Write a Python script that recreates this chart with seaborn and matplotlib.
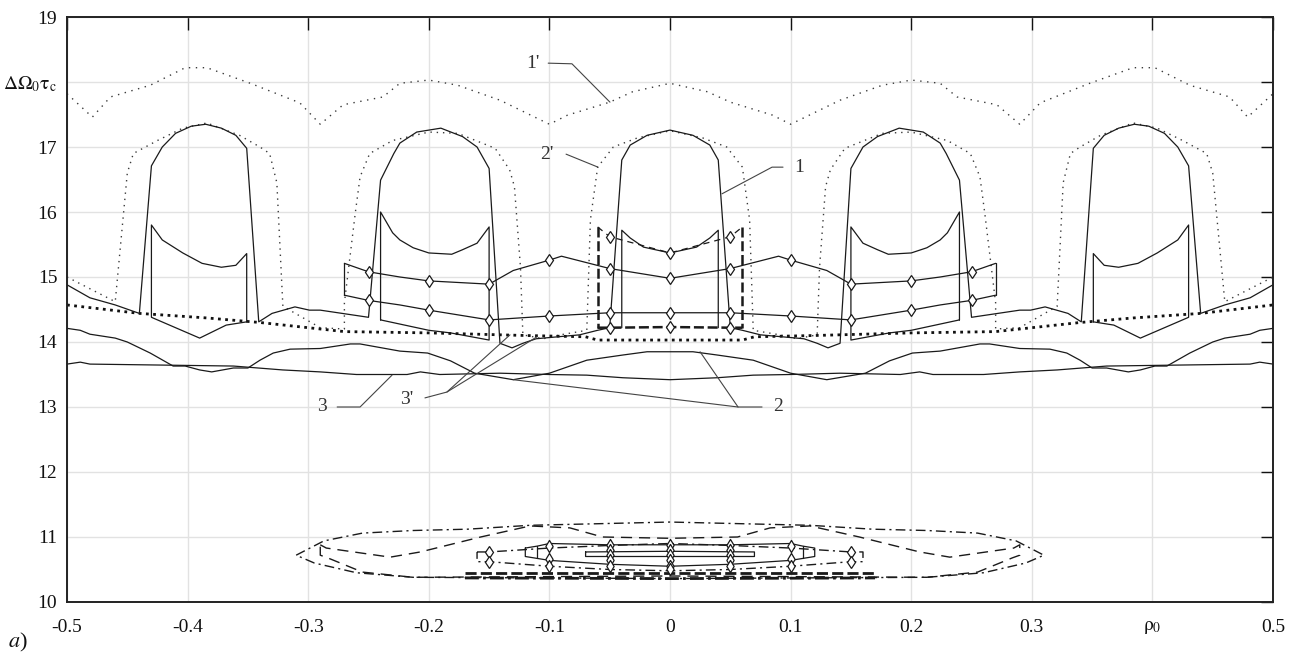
import numpy as np
import pandas as pd
import matplotlib
matplotlib.use("Agg")
import matplotlib.pyplot as plt
import seaborn as sns

# ---------------- data ----------------
# curve 1' (light dotted, top)
C1P_X = [-0.5,-0.479,-0.464,-0.431,-0.402,-0.384,-0.348,-0.307,-0.29,-0.271,-0.238,-0.224,-0.2,-0.176,-0.141,-0.1,-0.085,-0.05,-0.031,0.0,
         0.031,0.05,0.085,0.1,0.141,0.176,0.2,0.224,0.238,0.271,0.29,0.307,0.348,0.384,0.402,0.431,0.464,0.479,0.5]
C1P_Y = [17.82,17.46,17.77,17.95,18.22,18.22,17.98,17.68,17.35,17.65,17.77,17.98,18.03,17.95,17.72,17.35,17.49,17.69,17.85,17.98,
         17.85,17.69,17.49,17.35,17.72,17.95,18.03,17.98,17.77,17.65,17.35,17.68,17.98,18.22,18.22,17.95,17.77,17.46,17.82]

# curve 1 (solid outline with domes)
C1_X = [-0.5,-0.481,-0.46,-0.44,-0.43,-0.421,-0.41,-0.397,-0.385,-0.372,-0.36,-0.351,-0.341,-0.33,-0.311,-0.299,-0.29,-0.25,
        -0.24,-0.229,-0.224,-0.21,-0.19,-0.172,-0.16,-0.15,-0.141,-0.131,-0.122,-0.111,-0.075,-0.06,-0.05,-0.04,-0.033,-0.019,0.0,
        0.019,0.033,0.04,0.05,0.06,0.075,0.111,0.122,0.131,0.141,0.15,0.16,0.172,0.19,0.21,0.224,0.229,0.24,
        0.25,0.29,0.299,0.311,0.33,0.341,0.351,0.36,0.372,0.385,0.397,0.41,0.421,0.43,0.44,0.46,0.481,0.5]
C1_Y = [14.88,14.68,14.57,14.44,16.71,17.0,17.21,17.32,17.35,17.29,17.18,16.98,14.31,14.44,14.54,14.49,14.49,14.38,
        16.49,16.9,17.06,17.23,17.29,17.16,17.0,16.67,13.98,13.91,13.98,14.05,14.11,14.18,14.22,16.8,17.03,17.18,17.26,
        17.18,17.03,16.8,14.22,14.18,14.11,14.05,13.98,13.91,13.98,16.67,17.0,17.16,17.29,17.23,17.06,16.9,16.49,
        14.38,14.49,14.49,14.54,14.44,14.31,16.98,17.18,17.29,17.35,17.32,17.21,17.0,16.71,14.44,14.57,14.68,14.88]

# inner cups of curve 1
CUP1_X = [-0.351,-0.368,-0.39,-0.43,-0.43,-0.421,-0.404,-0.388,-0.372,-0.36,-0.351,-0.351]
CUP1_Y = [14.31,14.26,14.06,14.38,15.8,15.57,15.37,15.21,15.15,15.18,15.36,14.31]
CUP2_X = [-0.24,-0.24,-0.23,-0.224,-0.213,-0.2,-0.181,-0.172,-0.16,-0.15,-0.15,-0.182,-0.2,-0.24]
CUP2_Y = [14.34,16.0,15.68,15.57,15.45,15.37,15.35,15.42,15.52,15.77,14.03,14.14,14.18,14.34]
CUP3_X = [-0.04,-0.04,-0.033,-0.022,0.0,0.022,0.033,0.04,0.04]
CUP3_Y = [14.22,15.72,15.6,15.46,15.37,15.46,15.6,15.72,14.22]
CUP4_X = [0.24,0.24,0.23,0.224,0.213,0.2,0.181,0.172,0.16,0.15,0.15,0.182,0.2,0.24]
CUP4_Y = [14.34,16.0,15.68,15.57,15.45,15.37,15.35,15.42,15.52,15.77,14.03,14.14,14.18,14.34]
CUP5_X = [0.351,0.368,0.39,0.43,0.43,0.421,0.404,0.388,0.372,0.36,0.351,0.351]
CUP5_Y = [14.31,14.26,14.06,14.38,15.8,15.57,15.37,15.21,15.15,15.18,15.36,14.31]

# curve 2' (light dotted domes)
C2P_X = [-0.5,-0.46,-0.45,-0.445,-0.425,-0.404,-0.384,-0.357,-0.34,-0.332,-0.326,-0.321,-0.29,-0.27,-0.27,-0.261,-0.257,-0.249,
         -0.23,-0.2,-0.176,-0.145,-0.133,-0.129,-0.124,-0.122,-0.105,-0.091,-0.069,-0.066,-0.06,-0.047,-0.027,0.0,
         0.027,0.047,0.06,0.066,0.069,0.091,0.105,0.122,0.124,0.129,0.133,0.145,0.176,0.2,0.23,
         0.249,0.257,0.261,0.27,0.27,0.29,0.321,0.326,0.332,0.34,0.357,0.384,0.404,0.425,0.445,0.45,0.46,0.5]
C2P_Y = [15.0,14.62,16.6,16.9,17.1,17.29,17.37,17.18,17.0,16.9,16.45,14.55,14.22,14.2,14.6,15.98,16.54,16.9,
         17.1,17.23,17.21,16.98,16.65,16.39,15.15,14.11,14.05,14.11,14.18,15.88,16.69,17.0,17.14,17.25,
         17.14,17.0,16.69,15.88,14.18,14.11,14.05,14.11,15.15,16.39,16.65,16.98,17.21,17.23,17.1,
         16.9,16.54,15.98,14.6,14.2,14.22,14.55,16.45,16.9,17.0,17.18,17.37,17.29,17.1,16.9,16.6,14.62,15.0]

# curve 3' (bold dotted)
C3P_X = [-0.5,-0.44,-0.384,-0.34,-0.27,-0.2,-0.12,-0.07,-0.06,0.0,0.06,0.07,0.12,0.2,0.27,0.34,0.384,0.44,0.5]
C3P_Y = [14.57,14.44,14.37,14.3,14.16,14.14,14.1,14.08,14.03,14.03,14.03,14.08,14.1,14.14,14.16,14.3,14.37,14.44,14.57]

# curve 2 (solid, wavy)
C2_X = [-0.5,-0.489,-0.481,-0.46,-0.45,-0.431,-0.412,-0.402,-0.39,-0.38,-0.362,-0.35,-0.34,-0.329,-0.315,-0.29,-0.265,-0.257,
        -0.224,-0.201,-0.182,-0.162,-0.13,-0.1,-0.069,-0.039,-0.019,0.0,0.019,0.039,0.069,0.1,0.13,0.162,0.182,0.201,0.224,
        0.257,0.265,0.29,0.315,0.329,0.34,0.35,0.362,0.38,0.39,0.402,0.412,0.431,0.45,0.46,0.481,0.489,0.5]
C2_Y = [14.21,14.18,14.12,14.06,14.0,13.83,13.63,13.63,13.57,13.54,13.6,13.6,13.72,13.83,13.89,13.9,13.97,13.97,
        13.86,13.83,13.71,13.52,13.42,13.52,13.72,13.8,13.85,13.85,13.85,13.8,13.72,13.52,13.42,13.52,13.71,13.83,13.86,
        13.97,13.97,13.9,13.89,13.83,13.72,13.6,13.6,13.54,13.57,13.63,13.63,13.83,14.0,14.06,14.12,14.18,14.21]

# curve 3 (solid, flat)
C3_X = [-0.5,-0.489,-0.481,-0.362,-0.321,-0.29,-0.26,-0.218,-0.207,-0.191,-0.141,-0.1,-0.069,-0.039,0.0,
        0.039,0.069,0.1,0.141,0.191,0.207,0.218,0.26,0.29,0.321,0.362,0.481,0.489,0.5]
C3_Y = [13.66,13.69,13.66,13.63,13.57,13.54,13.5,13.5,13.54,13.5,13.52,13.5,13.49,13.45,13.42,
        13.45,13.49,13.5,13.52,13.5,13.54,13.5,13.5,13.54,13.57,13.63,13.66,13.69,13.66]

# diamond-marked lines
D1_X = [-0.27,-0.25,-0.224,-0.2,-0.15,-0.13,-0.1,-0.09,-0.05,0.0,0.05,0.09,0.1,0.13,0.15,0.2,0.224,0.25,0.27]
D1_Y = [15.21,15.08,15.0,14.94,14.89,15.1,15.26,15.32,15.13,14.98,15.13,15.32,15.26,15.1,14.89,14.94,15.0,15.08,15.21]
D1_MARK = [1,3,4,6,8,9,10,12,14,15,17]
D2_X = [-0.27,-0.25,-0.224,-0.2,-0.15,-0.1,-0.05,0.0,0.05,0.1,0.15,0.2,0.224,0.25,0.27]
D2_Y = [14.72,14.64,14.57,14.49,14.34,14.4,14.45,14.45,14.45,14.4,14.34,14.49,14.57,14.64,14.72]
D2_MARK = [1,3,4,5,6,7,8,9,10,11,13]

# dashed box around the central dome
BOX_TOP_X = [-0.06,-0.05,0.0,0.05,0.06]
BOX_TOP_Y = [15.77,15.62,15.37,15.62,15.77]
BOX_BOT_X = [-0.06,-0.05,0.0,0.05,0.06]
BOX_BOT_Y = [14.22,14.22,14.23,14.22,14.22]

# bottom cluster (closed loops)
E1_X = [-0.31,-0.287,-0.255,-0.213,-0.168,-0.116,0.0,0.116,0.168,0.213,0.255,0.287,0.31,
        0.295,0.26,0.213,0.1,0.0,-0.1,-0.213,-0.26,-0.295,-0.31]
E1_Y = [10.72,10.94,11.06,11.1,11.12,11.18,11.23,11.18,11.12,11.1,11.06,10.94,10.72,
        10.6,10.45,10.38,10.37,10.36,10.37,10.38,10.45,10.6,10.72]
E2_X = [-0.29,-0.285,-0.232,-0.207,-0.157,-0.116,-0.083,-0.056,0.0,0.056,0.083,0.116,0.157,0.207,0.232,0.285,0.29,
        0.29,0.284,0.255,0.213,0.0,-0.213,-0.255,-0.284,-0.29,-0.29]
E2_Y = [10.88,10.83,10.69,10.77,11.0,11.17,11.14,11.0,10.98,11.0,11.14,11.17,11.0,10.77,10.69,10.83,10.88,
        10.72,10.68,10.46,10.38,10.4,10.38,10.46,10.68,10.72,10.88]
E3_X = [-0.16,-0.15,-0.1,-0.05,0.0,0.05,0.1,0.15,0.16,0.16,0.15,0.1,0.05,0.0,-0.05,-0.1,-0.15,-0.16,-0.16]
E3_Y = [10.77,10.77,10.83,10.87,10.9,10.87,10.83,10.77,10.77,10.62,10.62,10.55,10.5,10.48,10.5,10.55,10.62,10.62,10.77]
E3_MARK = [1,7,10,16]
E4_X = [-0.12,-0.11,-0.1,-0.05,0.0,0.05,0.1,0.11,0.12,0.12,0.11,0.1,0.05,0.0,-0.05,-0.1,-0.11,-0.12,-0.12]
E4_Y = [10.83,10.86,10.9,10.88,10.88,10.88,10.9,10.86,10.83,10.7,10.67,10.64,10.58,10.55,10.58,10.64,10.67,10.7,10.83]
RECT_X = [-0.07,0.0,0.07,0.07,0.0,-0.07,-0.07]
RECT_Y = [10.77,10.78,10.77,10.7,10.7,10.7,10.77]
BOLD_X = [-0.17,0.0,0.17]
BOLD1_Y = [10.45,10.45,10.45]
BOLD2_Y = [10.37,10.36,10.37]
STACK_X = [-0.1,-0.1,-0.1,-0.05,-0.05,-0.05,-0.05,-0.05,0.0,0.0,0.0,0.0,0.0,0.0,
           0.05,0.05,0.05,0.05,0.05,0.1,0.1,0.1]
STACK_Y = [10.86,10.66,10.56,10.88,10.8,10.72,10.64,10.56,10.88,10.8,10.72,10.64,10.56,10.5,
           10.88,10.8,10.72,10.64,10.56,10.86,10.66,10.56]

# axis ticks and labels
X_TICKS = [-0.5,-0.4,-0.3,-0.2,-0.1,0.0,0.1,0.2,0.3,0.4,0.5]
X_LABELS = ['-0.5','-0.4','-0.3','-0.2','-0.1','0','0.1','0.2','0.3',r'$\mathrm{\rho_0}$','0.5']
Y_TICKS = [10,11,12,13,14,15,16,17,18,19]
Y_LABELS = ['10','11','12','13','14','15','16','17',r'$\mathrm{\Delta\Omega_0\tau_c}$','19']

# curve labels with leader lines (data coords)
LABELS = ["1'", "2'", "1", "3", "3'", "2"]
LABEL_POS = [(-0.1136,18.29),(-0.102,16.88),(0.107,16.68),(-0.2886,13.0),(-0.218,13.11),(0.0896,13.0)]
LEADERS = [
    [(-0.101,18.29),(-0.0813,18.28),(-0.0498,17.69)],
    [(-0.0862,16.89),(-0.0597,16.69)],
    [(0.0937,16.69),(0.0846,16.69),(0.0431,16.28)],
    [(-0.276,13.0),(-0.257,13.0),(-0.2305,13.49)],
    [(-0.2032,13.14),(-0.185,13.23),(-0.1327,14.11)],
    [(-0.185,13.23),(-0.1103,14.08)],
    [(0.0763,13.0),(0.0564,13.0),(0.0249,13.85)],
    [(0.0564,13.0),(-0.130,13.42)],
]

# ---------------- plotting ----------------
sns.set_theme(style="white")
plt.rcParams['font.family'] = ['Liberation Serif', 'DejaVu Serif']
plt.rcParams['mathtext.fontset'] = 'stix'

fig = plt.figure(figsize=(13.01, 6.59), dpi=100)
ax = fig.add_axes([0.0515, 0.0865, 0.927, 0.8877])

INK = '#1a1a1a'

def line(xs, ys, **kw):
    kw.setdefault('color', INK)
    kw.setdefault('lw', 0.9)
    sns.lineplot(x=xs, y=ys, sort=False, estimator=None, errorbar=None,
                 ax=ax, legend=False, **kw)

DIA = dict(marker='d', markersize=6.5, mfc='white', mec=INK, mew=0.9)

# top dotted curves
line(C1P_X, C1P_Y, lw=1.0, color='#3a3a3a', linestyle=(0, (1, 4)))
line(C2P_X, C2P_Y, lw=1.0, color='#3a3a3a', linestyle=(0, (1, 3.5)))
line(C3P_X, C3P_Y, lw=2.0, color='#111111', linestyle=(0, (1, 1.6)))

# curve 1 and its cups
line(C1_X, C1_Y)
for cx, cy in [(CUP1_X, CUP1_Y), (CUP2_X, CUP2_Y), (CUP3_X, CUP3_Y), (CUP4_X, CUP4_Y), (CUP5_X, CUP5_Y)]:
    line(cx, cy)

# curves 2 and 3
line(C2_X, C2_Y)
line(C3_X, C3_Y)

# diamond lines with end boxes
line(D1_X, D1_Y, markevery=D1_MARK, **DIA)
line(D2_X, D2_Y, markevery=D2_MARK, **DIA)
line([D1_X[0], D2_X[0]], [D1_Y[0], D2_Y[0]])
line([D1_X[-1], D2_X[-1]], [D1_Y[-1], D2_Y[-1]])

# dashed box
line(BOX_TOP_X, BOX_TOP_Y, lw=0.9, linestyle=(0, (5, 4)), markevery=[1, 2, 3], **DIA)
line([BOX_TOP_X[0], BOX_BOT_X[0]], [BOX_TOP_Y[0], BOX_BOT_Y[0]], lw=1.8, linestyle=(0, (4, 1.5)))
line([BOX_TOP_X[-1], BOX_BOT_X[-1]], [BOX_TOP_Y[-1], BOX_BOT_Y[-1]], lw=1.8, linestyle=(0, (4, 1.5)))
line(BOX_BOT_X, BOX_BOT_Y, lw=1.8, linestyle=(0, (4, 1.5)), markevery=[1, 2, 3], **DIA)

# bottom cluster
line(E1_X, E1_Y, lw=1.0, linestyle=(0, (7, 3, 1.5, 3)))
line(E2_X, E2_Y, lw=1.0, linestyle=(0, (8, 5)))
line(E3_X, E3_Y, lw=1.0, linestyle=(0, (7, 3, 1.5, 3)), markevery=E3_MARK, **DIA)
line(E4_X, E4_Y, lw=0.9)
line([E4_X[1], E4_X[1]], [E4_Y[1], E4_Y[-3]], lw=0.9)
line([E4_X[7], E4_X[7]], [E4_Y[7], E4_Y[10]], lw=0.9)
line(RECT_X, RECT_Y, lw=0.9)
line(BOLD_X, BOLD1_Y, lw=2.0, linestyle=(0, (4, 1.5)))
line(BOLD_X, BOLD2_Y, lw=2.0, linestyle=(0, (5, 1.5, 1, 1.5)))
sns.scatterplot(x=STACK_X, y=STACK_Y, marker='d', s=38, color='white', edgecolor=INK,
                linewidth=0.9, ax=ax, legend=False, zorder=5)

# labels and leaders
for lab, (lx, ly) in zip(LABELS, LABEL_POS):
    ax.text(lx, ly, lab, fontsize=14, color='#333333', ha='center', va='center')
for seg in LEADERS:
    xs, ys = zip(*seg)
    ax.plot(xs, ys, color='#444444', lw=0.8)

# axes styling
ax.set_xlim(-0.5, 0.5)
ax.set_ylim(10, 19)
ax.set_xticks(X_TICKS)
ax.set_xticklabels(X_LABELS)
ax.set_yticks(Y_TICKS)
ax.set_yticklabels(Y_LABELS)
ax.set_xlabel('')
ax.set_ylabel('')
ax.grid(True, color='#e2e2e2', lw=1.0)
ax.set_axisbelow(True)
ax.tick_params(axis='both', direction='in', length=9, width=1.0, color='#111111',
               top=True, right=True, labelsize=14, labelcolor='#111111')
ax.tick_params(axis='x', pad=12)
ax.tick_params(axis='y', pad=7)
for sp in ax.spines.values():
    sp.set_visible(True)
    sp.set_color('#222222')
    sp.set_linewidth(1.4)

fig.text(0.006, 0.025, r'$a$)', fontsize=16, color='#111111', ha='left', va='center')

fig.savefig('out.png', dpi=100)
